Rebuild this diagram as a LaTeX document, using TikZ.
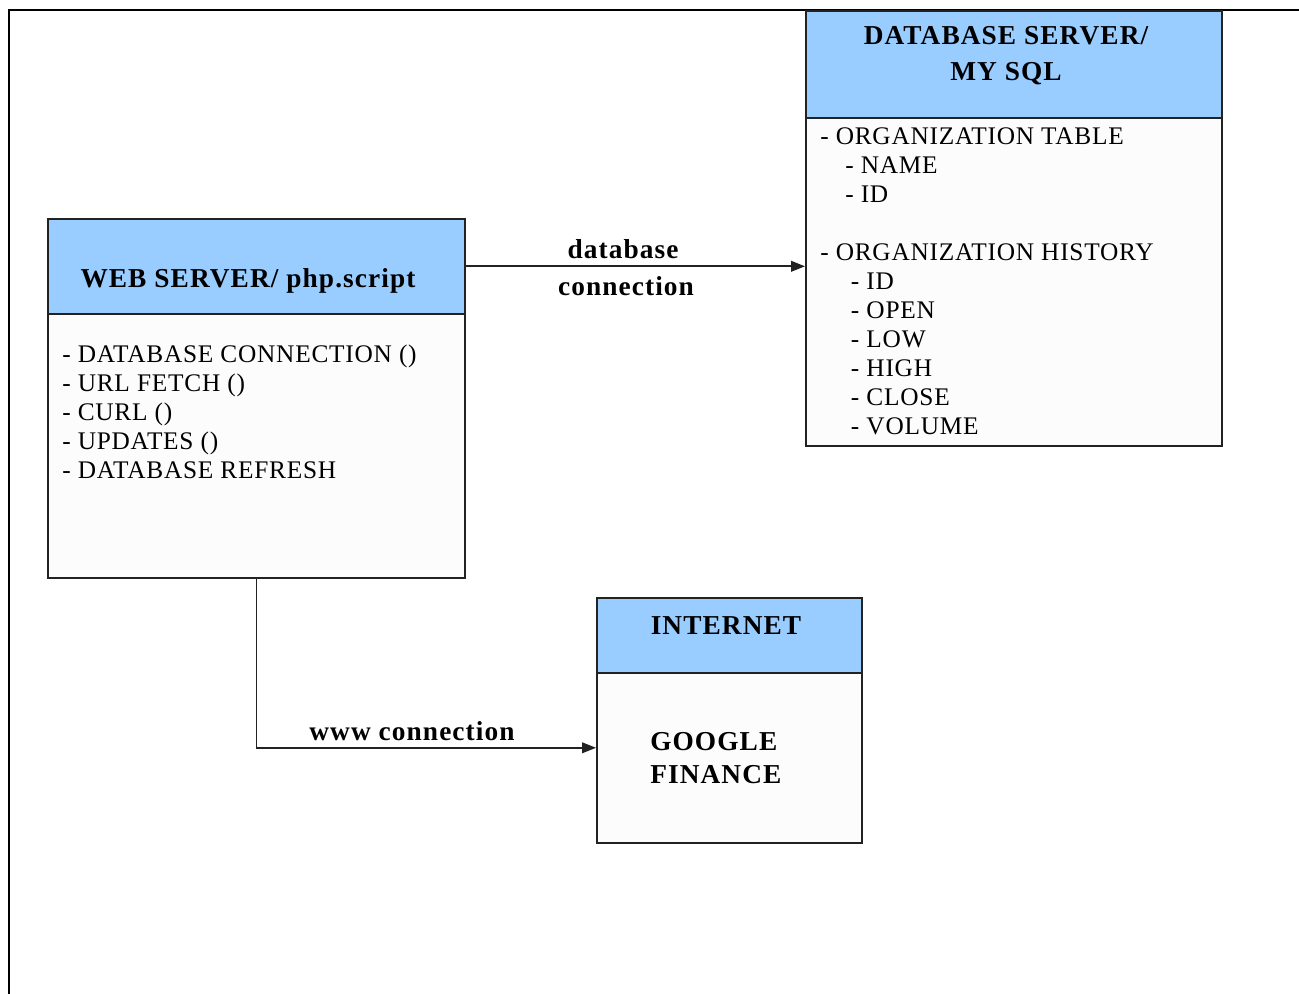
\documentclass[tikz,border=0pt]{standalone}
\usepackage{fontspec}
\setmainfont{Liberation Serif}
\newfontfamily\spacedfont[LetterSpace=3]{Liberation Serif}
\newfontfamily\boldspaced[LetterSpace=4,UprightFont={* Bold}]{Liberation Serif}
\usetikzlibrary{arrows.meta}
\definecolor{hdrblue}{HTML}{99CCFF}
\definecolor{bodyfill}{HTML}{FCFCFC}
\definecolor{edge}{HTML}{222222}
\tikzset{
  boxpart/.style={draw=edge, line width=1.2pt, rectangle, anchor=north west, inner sep=0pt},
  hdr/.style={boxpart, fill=hdrblue},
  bdy/.style={boxpart, fill=bodyfill},
  txt/.style={inner sep=0pt, font=\spacedfont\fontsize{19}{21.75}\selectfont, align=left},
  htxt/.style={inner sep=0pt, font=\boldspaced\fontsize{20.5}{27}\selectfont, align=center},
  conn/.style={draw=edge, line width=1.2pt, -{Triangle[length=10.5pt,width=8pt]}},
  lbl/.style={inner sep=0pt, font=\boldspaced\fontsize{20.5}{27}\selectfont}
}
\begin{document}
\begin{tikzpicture}[x=0.75pt,y=-0.75pt]
\useasboundingbox (0,0) rectangle (1299,994);
\fill[white] (0,0) rectangle (1299,994);
\draw[line width=1.5pt, black] (9,994) -- (9,10) -- (1299,10);

% Web server
\node (webB) [bdy, minimum width=312.75pt, minimum height=198pt] at (47,313) {};
\node (webH) [hdr, minimum width=312.75pt, minimum height=71.25pt] at (47,218) {};
\node (webT) [htxt, anchor=center] at (248,281) {WEB SERVER/ php.script};
\node (webL) [txt, anchor=base west] at (62,479) {- DATABASE CONNECTION ()\\- URL FETCH ()\\- CURL ()\\- UPDATES ()\\- DATABASE REFRESH};

% Database server
\node (dbB) [bdy, minimum width=312pt, minimum height=246pt] at (805,117) {};
\node (dbH) [hdr, minimum width=312pt, minimum height=80.25pt] at (805,10) {};
\node (dbT) [htxt, anchor=center] at (1006,56) {DATABASE SERVER/\\MY SQL};
\node (dbL) [txt, anchor=base west] at (820,435) {- ORGANIZATION TABLE\\\hspace*{18.75pt}- NAME\\\hspace*{18.75pt}- ID\\[21.75pt]- ORGANIZATION HISTORY\\\hspace*{23pt}- ID\\\hspace*{23pt}- OPEN\\\hspace*{23pt}- LOW\\\hspace*{23pt}- HIGH\\\hspace*{23pt}- CLOSE\\\hspace*{23pt}- VOLUME};

% Internet
\node (intB) [bdy, minimum width=198.75pt, minimum height=127.5pt] at (596,672) {};
\node (intH) [hdr, minimum width=198.75pt, minimum height=56.25pt] at (596,597) {};
\node (intT) [htxt, anchor=center] at (726,626) {INTERNET};
\node (intL) [htxt, align=left, anchor=base west, font=\boldspaced\fontsize{20.5}{24.75}\selectfont] at (650,783) {GOOGLE\\FINANCE};

% Connectors
\draw[conn] (webH.east) -- (webH.east -| dbB.west);
\node (lblDb1) [lbl] at (623,249) {database};
\node (lblDb2) [lbl] at (626,286) {connection};
\coordinate (wwwEnd) at ([yshift=7.5pt]intB.west);
\draw[conn] (webB.south) |- (wwwEnd);
\node (lblWww) [lbl] at (412,731) {www connection};
\end{tikzpicture}
\end{document}
